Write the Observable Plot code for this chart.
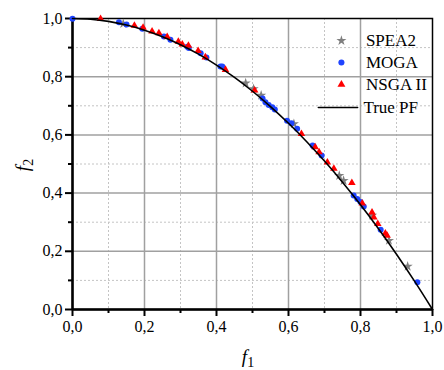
<!DOCTYPE html>
<html>
<head>
<meta charset="utf-8">
<script src="https://cdn.jsdelivr.net/npm/d3@7"></script>
<script src="https://cdn.jsdelivr.net/npm/@observablehq/plot@0.6"></script>
<style>
  body { margin: 0; background: #fff; }
  svg, svg text { font-family: "Liberation Serif", "Times New Roman", serif !important; }
</style>
</head>
<body>
<div id="chart"></div>
<script>
// ---- Data ----
const spea2F1 = [0.141, 0.481, 0.503, 0.524, 0.615, 0.741, 0.753, 0.832, 0.879, 0.931];
const spea2F2 = [0.982, 0.778, 0.758, 0.736, 0.638, 0.460, 0.443, 0.323, 0.237, 0.148];

const mogaF1 = [0.000, 0.129, 0.150, 0.194, 0.254, 0.272, 0.319, 0.323, 0.356, 0.372, 0.411, 0.416,
                0.528, 0.536, 0.545, 0.555, 0.562, 0.596, 0.608, 0.624, 0.667, 0.670, 0.692,
                0.781, 0.791, 0.800, 0.809, 0.856, 0.958];
const mogaF2 = [0.999, 0.987, 0.979, 0.965, 0.938, 0.927, 0.903, 0.899, 0.881, 0.866, 0.835, 0.835,
                0.725, 0.712, 0.703, 0.695, 0.687, 0.649, 0.640, 0.621, 0.564, 0.560, 0.529,
                0.392, 0.380, 0.369, 0.354, 0.274, 0.094];

const nsgaF1 = [0.078, 0.172, 0.196, 0.221, 0.240, 0.263, 0.294, 0.305, 0.322, 0.349, 0.369, 0.425,
                0.506, 0.636, 0.674, 0.685, 0.708, 0.726, 0.776, 0.805, 0.832, 0.837, 0.848, 0.869, 0.874];
const nsgaF2 = [0.999, 0.976, 0.969, 0.956, 0.950, 0.937, 0.921, 0.911, 0.907, 0.889, 0.867, 0.824,
                0.753, 0.604, 0.558, 0.541, 0.506, 0.484, 0.435, 0.365, 0.334, 0.317, 0.294, 0.262, 0.254];

// True Pareto front samples
const pfF1 = [0, 0.05, 0.1, 0.15, 0.2, 0.25, 0.3, 0.35, 0.4, 0.45, 0.5, 0.55, 0.6, 0.65, 0.7, 0.75, 0.8, 0.85, 0.9, 0.95, 1.0];
const pfF2 = [1, 0.9975, 0.99, 0.9775, 0.96, 0.9375, 0.91, 0.8775, 0.84, 0.7975, 0.75, 0.6975, 0.64, 0.5775, 0.51, 0.4375, 0.36, 0.2775, 0.19, 0.0975, 0];

const majorTicks = [0, 0.2, 0.4, 0.6, 0.8, 1.0];
const minorTicks = [0.1, 0.3, 0.5, 0.7, 0.9];

const legendNames = ["SPEA2", "MOGA", "NSGA II", "True PF"];
const colors = {"SPEA2": "#7f7f7f", "MOGA": "#1f44ff", "NSGA II": "#ff0000"};
const symbols = {"SPEA2": "star", "MOGA": "circle", "NSGA II": "triangle"};

// ---- Build tables ----
const zip = (a, b) => a.map((v, i) => ({f1: v, f2: b[i]}));
const spea2 = zip(spea2F1, spea2F2);
const moga = zip(mogaF1, mogaF2);
const nsga = zip(nsgaF1, nsgaF2);
const pf = zip(pfF1, pfF2);

const fmt = d => d.toFixed(1).replace(".", ",");

// legend layout (in data units, inside the plot frame)
const legRows = [0.924, 0.849, 0.773, 0.694];
const legMarks = legendNames.slice(0, 3).map((n, i) => ({name: n, x: 0.747, y: legRows[i]}));
const legTexts = legendNames.map((n, i) => ({name: n, x: i === 3 ? 0.808 : 0.815, y: legRows[i]}));
const legLine = [{x: 0.683, y: legRows[3]}, {x: 0.792, y: legRows[3]}];

const plot = Plot.plot({
  width: 444,
  height: 370,
  marginLeft: 72,
  marginRight: 12,
  marginTop: 18,
  marginBottom: 61,
  style: {fontFamily: "Liberation Serif, serif", fontSize: "16px", background: "#fff", color: "#000"},
  x: {domain: [0, 1]},
  y: {domain: [0, 1]},
  marks: [
    Plot.gridX(minorTicks, {stroke: "#c4c4c4", strokeOpacity: 1, strokeWidth: 1, strokeDasharray: "2,2"}),
    Plot.gridY(minorTicks, {stroke: "#c4c4c4", strokeOpacity: 1, strokeWidth: 1, strokeDasharray: "2,2"}),
    Plot.gridX(majorTicks.slice(1, 5), {stroke: "#a0a0a0", strokeOpacity: 1, strokeWidth: 1.5}),
    Plot.gridY(majorTicks.slice(1, 5), {stroke: "#a0a0a0", strokeOpacity: 1, strokeWidth: 1.5}),
    Plot.axisX(majorTicks, {tickSize: 7, tickPadding: 4, strokeWidth: 2, tickFormat: fmt, fontSize: 16, label: null}),
    Plot.axisX(minorTicks, {tickSize: 4, strokeWidth: 2, tickFormat: () => "", label: null}),
    Plot.axisY(majorTicks, {tickSize: 7, tickPadding: 3, strokeWidth: 2, tickFormat: fmt, fontSize: 16, label: null}),
    Plot.axisY(minorTicks, {tickSize: 4, strokeWidth: 2, tickFormat: () => "", label: null}),
    Plot.frame({stroke: "#000", strokeWidth: 1.5}),
    Plot.ruleX([0], {stroke: "#000", strokeWidth: 2.5}),
    Plot.ruleY([0], {stroke: "#000", strokeWidth: 2.5}),
    Plot.dot(spea2, {x: "f1", y: "f2", symbol: "star", r: 3.2, fill: colors["SPEA2"], stroke: "none"}),
    Plot.dot(moga, {x: "f1", y: "f2", symbol: "circle", r: 3, fill: colors["MOGA"], stroke: "none"}),
    Plot.dot(nsga, {x: "f1", y: "f2", symbol: "triangle", r: 2.8, fill: colors["NSGA II"], stroke: "none"}),
    Plot.line(pf, {x: "f1", y: "f2", stroke: "#000", strokeWidth: 1.6, curve: "catmull-rom"}),
    // legend
    Plot.dot(legMarks, {x: "x", y: "y", symbol: d => symbols[d.name], r: d => d.name === "SPEA2" ? 3.2 : d.name === "MOGA" ? 3 : 2.8, fill: d => colors[d.name], stroke: "none"}),
    Plot.line(legLine, {x: "x", y: "y", stroke: "#000", strokeWidth: 1.6}),
    Plot.text(legTexts, {x: "x", y: "y", text: "name", textAnchor: "start", fontSize: 17, fill: "#000"})
  ]
});

// axis titles with italic f and subscripts
const svg = d3.select(plot);
const xl = svg.append("text").attr("x", 248).attr("y", 363).attr("text-anchor", "middle").attr("fill", "#000");
xl.append("tspan").attr("font-style", "italic").attr("font-size", 19).text("f");
xl.append("tspan").attr("font-size", 14).attr("dy", 4).text("1");

const yl = svg.append("text").attr("transform", "translate(29,165) rotate(-90)").attr("text-anchor", "middle").attr("fill", "#000");
yl.append("tspan").attr("font-style", "italic").attr("font-size", 19).text("f");
yl.append("tspan").attr("font-size", 14).attr("dy", 4).text("2");

svg.selectAll("text").attr("font-family", "Liberation Serif, serif");
svg.style("font-family", "Liberation Serif, serif");

document.getElementById("chart").appendChild(plot);
</script>
</body>
</html>
